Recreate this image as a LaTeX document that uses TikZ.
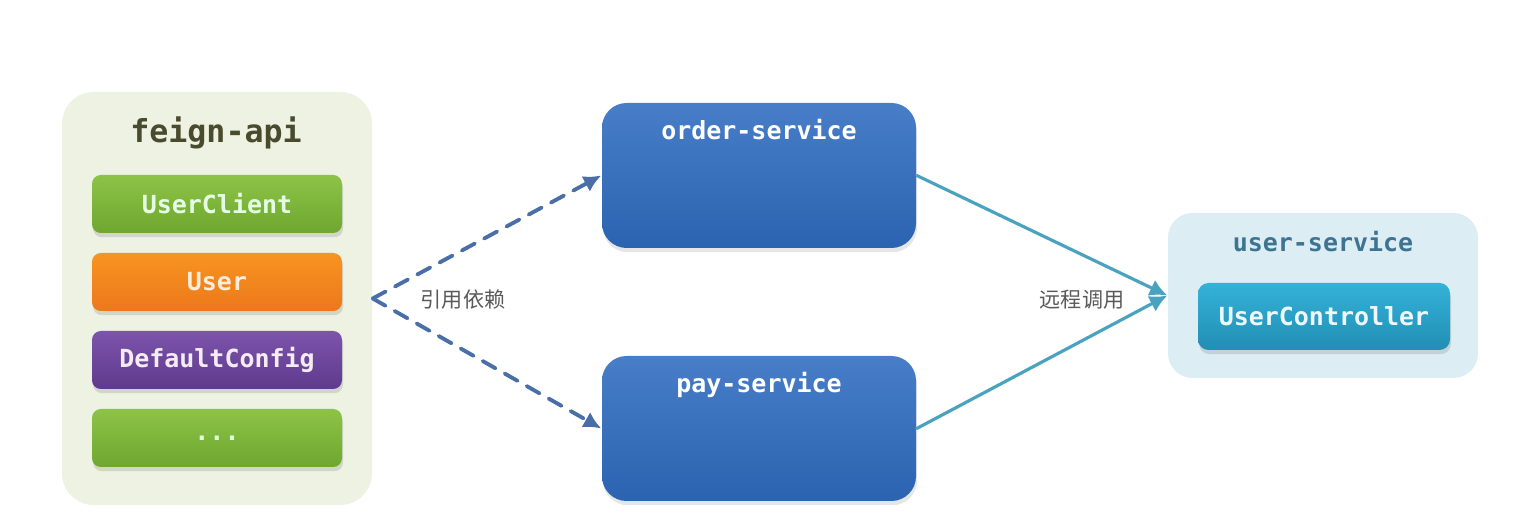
\documentclass[tikz,border=0pt]{standalone}
\usepackage{fontspec}
\setmonofont{DejaVu Sans Mono}
\newfontfamily\cjk{Noto Sans CJK SC}
\usetikzlibrary{arrows.meta,positioning,shadows}

\definecolor{apibg}{HTML}{EDF2E3}
\definecolor{apitxt}{HTML}{4A4A2C}
\definecolor{usrbg}{HTML}{DCEDF4}
\definecolor{usrtxt}{HTML}{3E7391}
\definecolor{refline}{HTML}{4A6FA8}
\definecolor{callline}{HTML}{4AA3BE}
\definecolor{svcblue}{HTML}{2F6CC0}

\tikzset{
  group/.style={rounded corners=9pt,inner sep=0pt},
  item/.style={rounded corners=2.5pt,minimum width=2.5cm,minimum height=0.58cm,
    font=\ttfamily\bfseries\fontsize{7.1}{8}\selectfont,
    drop shadow={opacity=0.25,shadow xshift=0.3pt,shadow yshift=-1.2pt}},
  svc/.style={rounded corners=7pt,minimum width=3.14cm,minimum height=1.45cm,
    top color=#1!88!white,bottom color=#1!92!black,
    drop shadow={opacity=0.2,shadow xshift=0.3pt,shadow yshift=-1.2pt}},
  title/.style={font=\ttfamily\bfseries\fontsize{7.1}{8}\selectfont},
  lbl/.style={font=\cjk\fontsize{6}{7}\selectfont,text=black!65},
  tip/.style={-{Latex[length=5pt,width=5pt]}}
}

\begin{document}
\begin{tikzpicture}[>=stealth,line join=round,line cap=round]
      \useasboundingbox (0,0) rectangle (15.39,5.26);

      % feign-api module
      \node[group,fill=apibg,minimum width=3.10cm,minimum height=4.13cm] (api) at (2.17,2.275) {};
      \node[font=\ttfamily\bfseries\fontsize{9}{10}\selectfont,text=apitxt] (apiname) at (2.16,3.93) {feign-api};
      \node[item,text=green!10!white,
            top color={rgb,255:red,141;green,196;blue,71},bottom color={rgb,255:red,110;green,166;blue,48}]
            (client) at (2.17,3.22) {UserClient};
      \node[item,text=orange!15!white,
            top color={rgb,255:red,248;green,148;blue,34},bottom color={rgb,255:red,236;green,120;blue,26}]
            (user) at (2.17,2.44) {User};
      \node[item,text=violet!8!white,
            top color={rgb,255:red,124;green,84;blue,172},bottom color={rgb,255:red,94;green,58;blue,140}]
            (config) at (2.17,1.66) {DefaultConfig};
      \node[item,text=green!10!white,
            top color={rgb,255:red,141;green,196;blue,71},bottom color={rgb,255:red,110;green,166;blue,48}]
            (more) at (2.17,0.88) {...};

      % consumers
      \node[svc=svcblue] (order) at (7.59,3.505) {};
      \node[title,text=white] (ordername) at (7.59,3.96) {order-service};
      \node[svc=svcblue] (pay) at (7.59,0.975) {};
      \node[title,text=white] (payname) at (7.59,1.41) {pay-service};

      % provider
      \node[group,rounded corners=7pt,fill=usrbg,minimum width=3.10cm,minimum height=1.65cm] (usrsvc) at (13.23,2.305) {};
      \node[title,text=usrtxt] (usrname) at (13.23,2.84) {user-service};
      \node[item,minimum width=2.52cm,minimum height=0.67cm,rounded corners=3pt,text=cyan!8!white,
            top color={rgb,255:red,52;green,178;blue,216},bottom color={rgb,255:red,34;green,142;blue,180}]
            (ctrl) at (13.24,2.095) {UserController};

      % dependencies
      \draw[refline,line width=1.1pt,dash pattern=on 4.2pt off 3pt,tip] (api.east)--(order.west);
      \draw[refline,line width=1.1pt,dash pattern=on 4.2pt off 3pt,tip] (api.east)--(pay.west);
      \node[lbl] (reflbl) at (4.63,2.26) {引用依赖};

      \draw[callline,line width=0.9pt,tip] (order.east)--(usrsvc.west);
      \draw[callline,line width=0.9pt,tip] (pay.east)--(usrsvc.west);
      \node[lbl] (calllbl) at (10.82,2.26) {远程调用};
    \end{tikzpicture}
\end{document}
